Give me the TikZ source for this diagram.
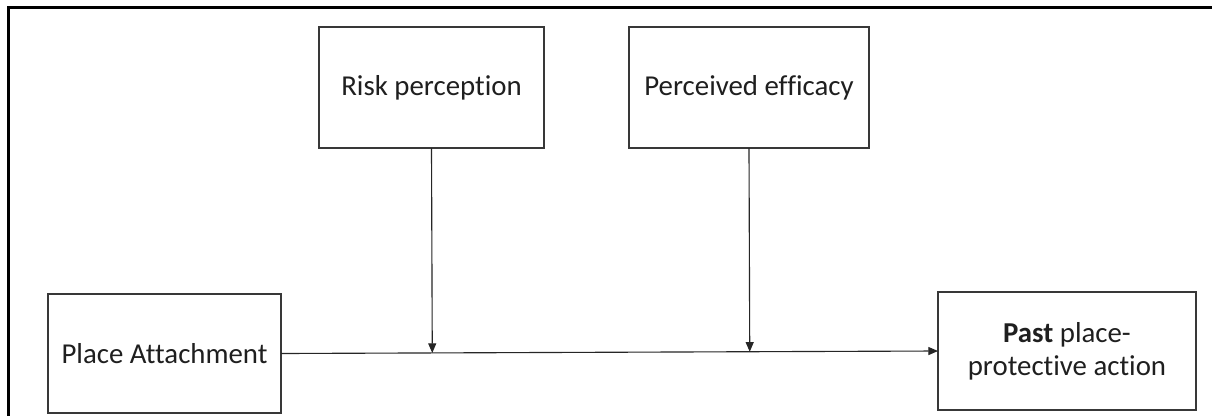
\documentclass[tikz,border=0pt]{standalone}
\usepackage{fontspec}
\setmainfont[Ligatures={NoCommon}]{Carlito}
\usetikzlibrary{arrows.meta,calc}
\tikzset{
  box/.style={draw=black!78, line width=0.75pt, rectangle, inner sep=0pt, outer sep=0pt, align=center,
    font=\fontsize{20.5}{23.5}\selectfont, text=black!88},
  conn/.style={draw=black!85, line width=0.8pt},
  arr/.style={conn, -{Triangle[length=0.24cm,width=0.2cm]}},
  frame/.style={draw=black, line width=1.5pt}
}
\begin{document}
\begin{tikzpicture}[x=0.025cm,y=-0.025cm]
\useasboundingbox (0,0) rectangle (1212,416);
\fill[white] (0,0) rectangle (1212,416);
\coordinate (ftr) at (1212,7.5);
\coordinate (ftl) at (8.5,7.5);
\coordinate (fbl) at (8.5,416);
\draw[frame] (ftr) -- (ftl) -- (fbl);
\node[box, minimum width=233*0.025cm, minimum height=119*0.025cm] (pa) at (164.5,353.5) {Place Attachment};
\node[box, minimum width=258*0.025cm, minimum height=118*0.025cm] (past) at (1067,351) {\textbf{Past} place-\\protective action};
\node[box, minimum width=225*0.025cm, minimum height=121*0.025cm] (risk) at (431.5,87.5) {Risk perception};
\node[box, minimum width=240*0.025cm, minimum height=121*0.025cm] (eff) at (749,87.5) {Perceived efficacy};
\draw[arr] (pa.east) -- (past.west);
\coordinate (m1) at ($(pa.east)!(risk.south)!(past.west)$);
\coordinate (m2) at ($(pa.east)!(eff.south)!(past.west)$);
\draw[arr] (risk.south) -- (m1);
\draw[arr] (eff.south) -- (m2);
\end{tikzpicture}
\end{document}
